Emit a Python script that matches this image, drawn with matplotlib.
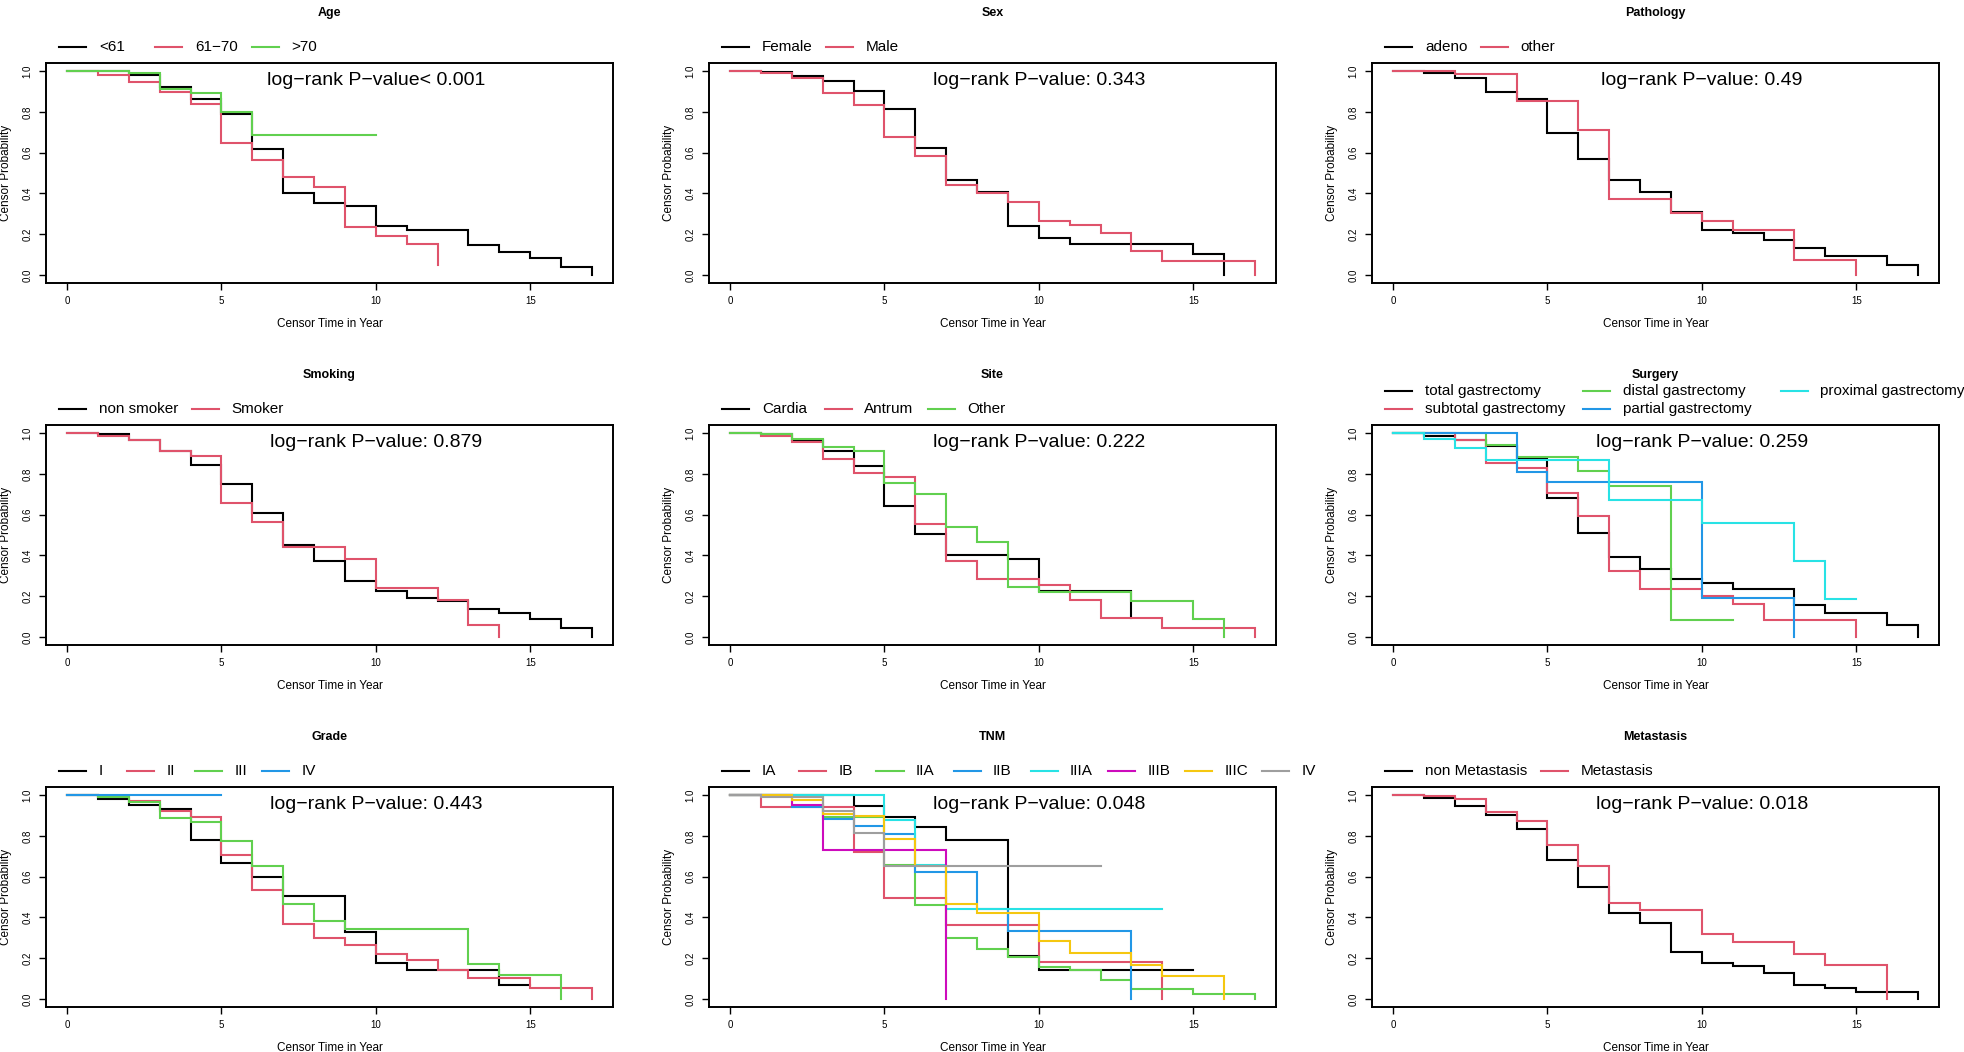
import math
import matplotlib
matplotlib.use('Agg')
import matplotlib.pyplot as plt
import numpy as np

plt.rcParams['font.family'] = ['Liberation Sans', 'DejaVu Sans']

# R default palette
R_COLS = ['#000000', '#DF536B', '#61D04F', '#2297E6', '#28E2E5', '#CD0BBC', '#F5C710', '#9E9E9E']

# ---- Data: survival estimate at years 0,1,2,... (step functions) ----
# Age
age_labels = ['<61', '61\u221270', '>70']
age_lt61 = [1.0, 1.0, 0.980, 0.923, 0.865, 0.791, 0.618, 0.404, 0.351, 0.338, 0.239, 0.222, 0.222, 0.148, 0.112, 0.084, 0.041, 0.0]
age_61_70 = [1.0, 0.982, 0.947, 0.900, 0.837, 0.649, 0.565, 0.478, 0.433, 0.236, 0.189, 0.150, 0.049]
age_gt70 = [1.0, 1.0, 0.990, 0.914, 0.891, 0.799, 0.685, 0.685, 0.685, 0.685, 0.685]
age_p = 'log\u2212rank P\u2212value< 0.001'

# Sex
sex_labels = ['Female', 'Male']
sex_female = [1.0, 0.997, 0.977, 0.951, 0.901, 0.814, 0.623, 0.466, 0.405, 0.242, 0.183, 0.152, 0.152, 0.152, 0.152, 0.102, 0.0]
sex_male = [1.0, 0.990, 0.964, 0.891, 0.835, 0.675, 0.585, 0.442, 0.400, 0.359, 0.265, 0.247, 0.206, 0.115, 0.068, 0.068, 0.068, 0.0]
sex_p = 'log\u2212rank P\u2212value: 0.343'

# Pathology
path_labels = ['adeno', 'other']
path_adeno = [1.0, 0.990, 0.965, 0.900, 0.862, 0.694, 0.570, 0.466, 0.407, 0.311, 0.222, 0.206, 0.173, 0.133, 0.094, 0.094, 0.046, 0.0]
path_other = [1.0, 1.0, 0.985, 0.985, 0.853, 0.853, 0.713, 0.372, 0.372, 0.306, 0.264, 0.219, 0.219, 0.074, 0.074, 0.0]
path_p = 'log\u2212rank P\u2212value: 0.49'

# Smoking
smk_labels = ['non smoker', 'Smoker']
smk_non = [1.0, 0.997, 0.967, 0.914, 0.842, 0.750, 0.606, 0.450, 0.374, 0.272, 0.226, 0.193, 0.176, 0.137, 0.117, 0.089, 0.044, 0.0]
smk_yes = [1.0, 0.988, 0.967, 0.914, 0.888, 0.659, 0.565, 0.442, 0.442, 0.384, 0.239, 0.239, 0.180, 0.058, 0.0]
smk_p = 'log\u2212rank P\u2212value: 0.879'

# Site
site_labels = ['Cardia', 'Antrum', 'Other']
site_cardia = [1.0, 0.997, 0.967, 0.911, 0.837, 0.641, 0.507, 0.404, 0.404, 0.382, 0.226, 0.226, 0.226, 0.091]
site_antrum = [1.0, 0.987, 0.959, 0.873, 0.804, 0.786, 0.555, 0.371, 0.283, 0.283, 0.255, 0.183, 0.091, 0.091, 0.044, 0.044, 0.044, 0.0]
site_other = [1.0, 0.997, 0.972, 0.934, 0.911, 0.756, 0.700, 0.539, 0.466, 0.244, 0.219, 0.219, 0.219, 0.175, 0.175, 0.087, 0.0]
site_p = 'log\u2212rank P\u2212value: 0.222'

# Surgery
surg_labels = ['total gastrectomy', 'subtotal gastrectomy', 'distal gastrectomy', 'partial gastrectomy', 'proximal gastrectomy']
surg_total = [1.0, 0.988, 0.964, 0.936, 0.871, 0.680, 0.511, 0.390, 0.334, 0.283, 0.264, 0.236, 0.236, 0.157, 0.119, 0.119, 0.058, 0.0]
surg_subtotal = [1.0, 1.0, 0.967, 0.853, 0.829, 0.708, 0.593, 0.321, 0.234, 0.234, 0.201, 0.160, 0.081, 0.081, 0.081, 0.0]
surg_distal = [1.0, 1.0, 1.0, 0.942, 0.881, 0.881, 0.815, 0.741, 0.741, 0.084, 0.084, 0.084]
surg_partial = [1.0, 1.0, 1.0, 1.0, 0.807, 0.761, 0.761, 0.761, 0.761, 0.761, 0.193, 0.193, 0.193, 0.0]
surg_proximal = [1.0, 0.972, 0.928, 0.868, 0.868, 0.868, 0.868, 0.674, 0.674, 0.674, 0.560, 0.560, 0.560, 0.374, 0.188, 0.188]
surg_p = 'log\u2212rank P\u2212value: 0.259'

# Grade
grade_labels = ['I', 'II', 'III', 'IV']
grade_1 = [1.0, 0.980, 0.954, 0.934, 0.781, 0.669, 0.600, 0.506, 0.506, 0.329, 0.175, 0.140, 0.140, 0.140, 0.069, 0.069]
grade_2 = [1.0, 0.995, 0.972, 0.923, 0.893, 0.707, 0.535, 0.369, 0.300, 0.262, 0.221, 0.193, 0.140, 0.104, 0.104, 0.053, 0.053, 0.0]
grade_3 = [1.0, 0.992, 0.967, 0.888, 0.868, 0.773, 0.654, 0.465, 0.382, 0.344, 0.344, 0.344, 0.344, 0.173, 0.115, 0.115, 0.0]
grade_4 = [1.0, 1.0, 1.0, 1.0, 1.0, 1.0]
grade_p = 'log\u2212rank P\u2212value: 0.443'

# TNM
tnm_labels = ['IA', 'IB', 'IIA', 'IIB', 'IIIA', 'IIIB', 'IIIC', 'IV']
tnm_ia = [1.0, 1.0, 1.0, 1.0, 0.946, 0.893, 0.842, 0.781, 0.781, 0.209, 0.142, 0.142, 0.142, 0.142, 0.142, 0.142]
tnm_ib = [1.0, 0.941, 0.941, 0.941, 0.720, 0.494, 0.494, 0.361, 0.361, 0.361, 0.180, 0.180, 0.180, 0.180, 0.0]
tnm_iia = [1.0, 1.0, 1.0, 0.893, 0.893, 0.657, 0.461, 0.300, 0.245, 0.206, 0.157, 0.140, 0.094, 0.048, 0.048, 0.025, 0.025, 0.0]
tnm_iib = [1.0, 1.0, 0.942, 0.885, 0.848, 0.807, 0.621, 0.621, 0.443, 0.333, 0.333, 0.333, 0.333, 0.0]
tnm_iiia = [1.0, 1.0, 1.0, 1.0, 1.0, 0.876, 0.657, 0.440, 0.440, 0.440, 0.440, 0.440, 0.440, 0.440, 0.440]
tnm_iiib = [1.0, 1.0, 0.951, 0.733, 0.733, 0.733, 0.733, 0.0]
tnm_iiic = [1.0, 1.0, 0.975, 0.909, 0.896, 0.786, 0.654, 0.468, 0.423, 0.423, 0.283, 0.226, 0.226, 0.168, 0.114, 0.114, 0.0]
tnm_iv = [1.0, 0.990, 0.990, 0.923, 0.814, 0.651, 0.651, 0.651, 0.651, 0.651, 0.651, 0.651, 0.651]
tnm_p = 'log\u2212rank P\u2212value: 0.048'

# Metastasis
met_labels = ['non Metastasis', 'Metastasis']
met_no = [1.0, 0.988, 0.946, 0.901, 0.835, 0.684, 0.550, 0.423, 0.371, 0.231, 0.175, 0.160, 0.127, 0.069, 0.054, 0.036, 0.036, 0.0]
met_yes = [1.0, 0.995, 0.980, 0.918, 0.873, 0.756, 0.651, 0.473, 0.437, 0.437, 0.316, 0.278, 0.278, 0.222, 0.165, 0.165, 0.0]
met_p = 'log\u2212rank P\u2212value: 0.018'

panels = [
    ('Age', age_labels, [age_lt61, age_61_70, age_gt70], age_p, None),
    ('Sex', sex_labels, [sex_female, sex_male], sex_p, None),
    ('Pathology', path_labels, [path_adeno, path_other], path_p, None),
    ('Smoking', smk_labels, [smk_non, smk_yes], smk_p, None),
    ('Site', site_labels, [site_cardia, site_antrum, site_other], site_p, None),
    ('Surgery', surg_labels, [surg_total, surg_subtotal, surg_distal, surg_partial, surg_proximal], surg_p, 3),
    ('Grade', grade_labels, [grade_1, grade_2, grade_3, grade_4], grade_p, None),
    ('TNM', tnm_labels, [tnm_ia, tnm_ib, tnm_iia, tnm_iib, tnm_iiia, tnm_iiib, tnm_iiic, tnm_iv], tnm_p, None),
    ('Metastasis', met_labels, [met_no, met_yes], met_p, None),
]

# ---- Layout ----
FW, FH = 1965, 1052
fig = plt.figure(figsize=(FW / 100, FH / 100), dpi=100)
col_left = [46, 709, 1372]
row_top = [63, 425, 787]
AW, AH = 567, 220
LW = 1.5

axes = []
for i, (title, labels, series, ptxt, ncol) in enumerate(panels):
    r, c = divmod(i, 3)
    ax = fig.add_axes([col_left[c] / FW, 1 - (row_top[r] + AH) / FH, AW / FW, AH / FH])
    axes.append(ax)
    for k, s in enumerate(series):
        t = np.arange(len(s))
        ax.plot(t, s, drawstyle='steps-post', color=R_COLS[k], lw=LW, solid_joinstyle='miter')
    ax.set_xlim(-0.68, 17.68)
    ax.set_ylim(-0.04, 1.04)
    ax.set_xticks([0, 5, 10, 15])
    ax.set_yticks([0.0, 0.2, 0.4, 0.6, 0.8, 1.0])
    ax.set_yticklabels(['0.0', '0.2', '0.4', '0.6', '0.8', '1.0'])
    ax.tick_params(axis='both', labelsize=7, length=5, width=1.0, direction='out', pad=4.5)
    for lab in ax.get_yticklabels():
        lab.set_rotation(90)
        lab.set_va('center')
        lab.set_ha('right')
    for sp in ax.spines.values():
        sp.set_linewidth(1.4)
    ax.set_xlabel('Censor Time in Year', fontsize=8.5)
    ax.set_ylabel('Censor Probability', fontsize=8.5)
    ax.xaxis.set_label_coords(0.5, -41 / AH)
    ax.xaxis.label.set_va('center')
    ax.yaxis.set_label_coords(-40 / AW, 0.5)
    ax.yaxis.label.set_va('center')
    ax.text(0.5, 1 + 50 / AH, title, transform=ax.transAxes, ha='center', va='center',
            fontsize=9, fontweight='bold')
    ax.text(10, 0.955, ptxt, ha='center', va='center', fontsize=14)

renderer = fig.canvas.get_renderer()

# ---- R-style horizontal legends (equal column widths) ----
line_len, gap1, gap2, left_pad, row_h, base_y = 27, 12.5, 13.8, 13.4, 18, 16
for ax, (title, labels, series, ptxt, ncol) in zip(axes, panels):
    n = len(labels)
    nc = ncol if ncol else n
    nrow = math.ceil(n / nc)
    txts = []
    for lab in labels:
        tt = ax.text(0, 0, lab, fontsize=11, transform=ax.transAxes, ha='left', va='center')
        txts.append(tt)
    maxw = max(tt.get_window_extent(renderer).width for tt in txts)
    colw = line_len + gap1 + maxw + gap2
    for k, (lab, tt) in enumerate(zip(labels, txts)):
        cc, rr = divmod(k, nrow)
        x0 = left_pad + cc * colw
        yy = 1 + (base_y + (nrow - 1 - rr) * row_h) / AH
        ax.plot([x0 / AW, (x0 + line_len) / AW], [yy, yy], transform=ax.transAxes,
                clip_on=False, color=R_COLS[k], lw=LW)
        tt.set_position(((x0 + line_len + gap1) / AW, yy))

fig.savefig('out.png', dpi=100)
